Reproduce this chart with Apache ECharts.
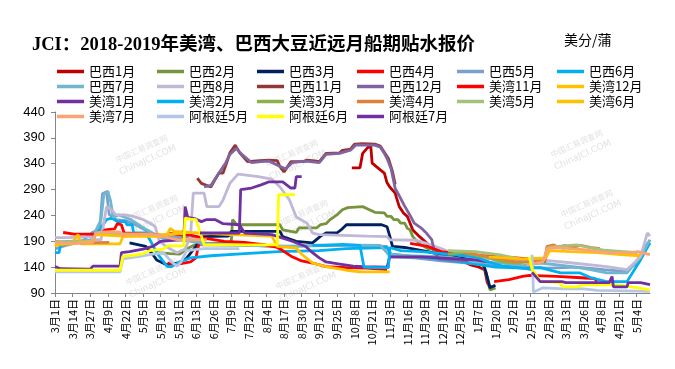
<!DOCTYPE html>
<html><head><meta charset="utf-8">
<script src="https://cdn.jsdelivr.net/npm/echarts@6/dist/echarts.min.js"></script>
<style>html,body{margin:0;padding:0;background:#fff}#c{width:675px;height:369px}</style>
</head><body><div id="c"></div><script>
// x values are day offsets from 2018-03-01; y values in 美分/蒲
const BASE = new Date(2018, 2, 1);
const yTicks = [90, 440, 50];
const names = ['巴西1月','巴西2月','巴西3月','巴西4月','巴西5月','巴西6月','巴西7月','巴西8月','巴西11月','巴西12月','美湾11月','美湾12月','美湾1月','美湾2月','美湾3月','美湾4月','美湾5月','美湾6月','美湾7月','阿根廷5月','阿根廷6月','阿根廷7月'];
const colors = ['#C00000','#77933C','#002060','#FF0000','#7BA0CD','#00B0F0','#6FB6CF','#C0B8D6','#943634','#8064A2','#FF0000','#FFC000','#7030A0','#00B0F0','#8EB04A','#E0803A','#A5C27C','#FFC000','#F9A472','#B4C7E7','#FFFF00','#7030A0'];

const br1 = [[219,332],[225,332],[227,360],[231,372],[233,373],[234,341],[240,328],[243,322],[245,303],[247,295],[251,283],[252,274],[254,257],[257,245],[260,238],[264,212],[269,199],[274,187],[279,174],[282,170],[291,160],[299,154],[306,145],[313,140],[317,135],[319,110],[321,100],[324,104]];
const br2 = [[75,168],[85,166],[92,165],[97,175],[103,183],[110,186],[130,186],[131,232],[134,222],[166,222],[168,212],[178,207],[180,216],[193,216],[196,222],[200,224],[203,232],[208,241],[212,251],[216,255],[227,257],[232,251],[236,246],[243,245],[245,238],[248,238],[250,232],[253,232],[255,225],[258,225],[260,215],[262,212],[264,199],[269,185],[275,176],[281,174],[285,170],[290,160],[295,155],[305,150],[315,148],[318,130],[321,96],[325,100]];
const br3 = [[55,187],[67,180],[72,165],[75,154],[82,145],[86,146],[91,148],[97,157],[104,180],[108,199],[128,200],[130,209],[166,209],[168,199],[178,190],[190,187],[196,200],[200,206],[208,206],[211,212],[215,222],[241,222],[245,218],[247,200],[249,180],[258,178],[265,175],[275,170],[283,165],[300,160],[315,155],[318,130],[321,100],[325,105]];
const br4 = [[83,148],[88,145],[93,147],[100,150],[104,158],[106,183],[115,186],[128,185],[145,182],[164,180],[168,172],[169,'-'],[324,112],[335,116],[345,122],[350,124],[370,122],[385,120],[398,118],[400,112]];
const br5 = [[0,175],[8,182],[20,190],[28,208],[33,212],[35,282],[38,286],[40,242],[45,232],[52,230],[58,224],[65,214],[70,206],[76,200],[90,198],[105,199],[108,183],[160,181],[178,180],[200,182],[245,180],[248,160],[265,158],[285,152],[305,148],[325,143],[345,140],[365,138],[385,140],[405,135],[420,132],[428,145],[434,175],[439,192]];
const br6 = [[0,168],[3,168],[4,183],[8,189],[26,189],[28,193],[31,212],[33,212],[38,232],[42,235],[46,228],[52,228],[53,222],[57,222],[58,206],[67,206],[70,193],[75,168],[79,154],[83,141],[86,141],[92,150],[100,158],[115,162],[140,166],[165,170],[195,172],[215,176],[245,178],[248,165],[275,158],[300,150],[325,140],[345,138],[358,139],[373,129],[387,129],[395,120],[407,112],[422,112],[432,154],[439,187]];
const br7 = [[0,188],[10,190],[26,192],[30,210],[34,232],[36,280],[39,287],[41,268],[43,236],[47,241],[52,236],[56,232],[60,225],[66,215],[72,206],[80,195],[90,193],[100,190],[110,186],[140,183],[170,180],[200,183],[240,182],[246,165],[260,162],[290,160],[310,150],[330,148],[345,143],[358,148],[382,141],[395,135],[407,129],[422,129],[432,160],[439,193]];
const br8 = [[0,197],[9,197],[10,199],[26,199],[28,193],[34,193],[38,257],[42,250],[45,241],[52,241],[58,238],[65,232],[72,222],[74,218],[77,190],[82,180],[90,168],[96,175],[100,200],[102,283],[110,283],[112,257],[121,257],[124,270],[129,302],[135,320],[150,315],[160,310],[166,295],[173,270],[178,237],[186,225],[190,206],[195,203],[230,200],[245,199],[247,193],[267,192],[275,185],[285,176],[295,165],[310,158],[330,154],[358,154],[382,148],[407,141],[422,135],[432,160],[437,206],[439,200]];
const br11 = [[105,312],[108,302],[115,295],[118,309],[121,322],[124,322],[127,344],[129,361],[133,376],[136,362],[142,344],[151,346],[158,347],[164,346],[166,334],[169,324],[172,336],[174,344],[183,344],[186,347],[190,346],[195,344],[200,360],[210,361],[212,366],[218,368],[221,378],[227,379],[236,378],[240,374],[243,362],[246,350],[249,325],[251,300]];
const br12 = [[110,295],[115,298],[120,318],[126,342],[129,358],[134,370],[137,360],[145,342],[152,344],[158,345],[165,336],[170,330],[175,342],[185,345],[195,342],[200,358],[210,360],[218,366],[222,376],[236,376],[240,372],[243,360],[245,350],[248,330],[251,292],[254,278],[258,258],[262,240],[265,225],[270,216],[274,206],[278,193],[280,170],[283,156],[292,154],[305,152]];
const us11 = [[6,207],[14,204],[33,204],[37,212],[44,214],[46,224],[49,222],[51,206],[75,203],[82,200],[84,206],[90,203],[100,202],[110,196],[125,190],[140,188],[155,183],[164,178],[168,172],[175,160],[182,152],[190,148],[200,141],[215,139],[230,138],[245,135],[246,'-'],[262,186],[275,180],[285,170],[300,165],[315,162],[330,160],[345,157],[360,154],[362,150]];
const us12 = [[0,180],[4,187],[12,184],[17,203],[19,185],[48,185],[50,199],[58,200],[82,199],[85,215],[88,209],[100,207],[129,203],[160,200],[164,180],[178,177],[182,165],[190,148],[200,141],[215,134],[225,131],[247,131]];
const us1 = [[0,141],[4,137],[26,136],[28,142],[48,142],[49,168],[55,170],[65,175],[72,180],[78,190],[92,193],[95,195],[96,257],[98,236],[103,234],[108,228],[112,232],[118,232],[124,224],[136,222],[140,206],[160,203],[175,190],[185,180],[190,168],[195,158],[200,150],[210,146],[220,142],[228,141],[245,140],[247,160],[270,160],[290,157],[310,154],[320,150]];
const us2 = [[190,182],[200,182],[212,184],[225,182],[228,140],[235,139],[246,139],[247,178],[255,172],[270,170],[290,165],[310,160],[320,150],[330,142],[345,138],[352,135]];
const us3 = [[0,190],[7,188],[8,'-'],[290,165],[300,168],[310,163],[320,158],[330,150],[340,148],[350,150],[361,152],[363,178],[370,180],[376,176]];
const us4 = [[0,186],[40,188],[41,'-'],[300,170],[320,160],[340,150],[355,152],[362,155],[363,180],[368,183],[372,178],[376,182],[382,178],[388,182],[395,178],[402,176]];
const us5 = [[0,189],[28,190],[30,205],[70,204],[71,'-'],[290,172],[310,170],[330,163],[345,155],[362,157],[364,178],[375,181],[385,183],[395,177],[405,173],[420,170],[430,168]];
const us6 = [[0,183],[28,190],[30,203],[50,200],[95,205],[96,'-'],[320,160],[345,156],[362,158],[365,172],[380,170],[400,168],[420,164],[432,162]];
const us7 = [[0,188],[14,186],[28,188],[30,206],[35,208],[48,208],[50,200],[52,204],[70,204],[80,200],[85,196],[90,193],[112,193],[113,'-'],[348,144],[360,150],[363,176],[370,178],[380,176],[390,174],[400,170],[410,168],[425,168],[430,170],[439,164]];
const ar5 = [[0,131],[48,131],[50,156],[60,160],[70,164],[80,168],[86,150],[90,142],[93,150],[97,172],[110,176],[136,176],[137,'-'],[352,164],[353,92],[360,100],[375,98],[390,98],[400,95],[420,94],[439,93]];
const ar6 = [[0,134],[48,134],[50,161],[58,163],[64,165],[70,172],[80,175],[83,181],[95,181],[96,235],[100,233],[104,232],[106,217],[108,200],[110,183],[164,183],[165,280],[177,280],[178,'-'],[350,160],[352,135],[355,125],[358,112],[372,110],[375,102],[385,102],[390,106],[410,106],[420,104],[430,100],[439,96]];
const ar7 = [[107,206],[136,206],[137,290],[145,293],[152,299],[158,305],[168,305],[174,293],[177,293],[178,315],[182,315],[183,'-'],[352,130],[358,112],[374,112],[377,110],[409,110],[411,122],[412,102],[422,102],[423,110],[432,110],[439,106]];

const seriesData = [br1,br2,br3,br4,br5,br6,br7,br8,br11,br12,us11,us12,us1,us2,us3,us4,us5,us6,us7,ar5,ar6,ar7];

function dayLabel(v){
  const d = new Date(BASE.getTime());
  d.setDate(d.getDate() + Math.round(v));
  return (d.getMonth()+1) + '月' + d.getDate() + '日';
}

const wm = [];
[[140,145],[290,150],[575,140],[150,205],[300,210],[585,200],[150,268],[300,272]].forEach(p=>{
  wm.push({type:'text', x:p[0], y:p[1], rotation:0.42, silent:true, z:-1,
    style:{text:'中国汇易调查网', font:'8px "Noto Sans CJK SC"', fill:'rgba(170,170,170,0.35)', align:'center'}});
  wm.push({type:'text', x:p[0]+6, y:p[1]+11, rotation:0.42, silent:true, z:-1,
    style:{text:'ChinaJCI.COM', font:'9px "DejaVu Sans"', fill:'rgba(170,170,170,0.35)', align:'center'}});
});

const chart = echarts.init(document.getElementById('c'), null, {renderer:'canvas'});
chart.setOption({
  animation:false,
  backgroundColor:'#fff',
  title:{text:'JCI：2018-2019年美湾、巴西大豆近远月船期贴水报价', left:27, top:31,
    textStyle:{fontSize:18.5, fontWeight:'bold', color:'#000', fontFamily:'"Liberation Serif", "Noto Sans CJK SC"'}},
  graphic:[{type:'text', left:564, top:33, style:{text:'美分/蒲', font:'14px "Noto Sans CJK SC"', fill:'#000'}}].concat(wm),
  legend:{left:52, top:59, width:610, itemWidth:27, itemHeight:3.5, itemGap:0, icon:'rect', selectedMode:false,
    textStyle:{fontSize:13, width:68, lineHeight:15, color:'#000', fontFamily:'"Noto Sans CJK SC"'},
    data:names},
  grid:{left:55, right:25, top:112, bottom:76, containLabel:false},
  xAxis:{type:'value', min:0, max:439, interval:13,
    axisLine:{show:true, lineStyle:{color:'#868686', width:1}},
    axisTick:{show:true, length:4, lineStyle:{color:'#868686'}},
    splitLine:{show:false},
    axisLabel:{rotate:90, fontSize:11, margin:6, color:'#000', fontFamily:'"Noto Sans CJK SC"', showMaxLabel:false, formatter:dayLabel}},
  yAxis:{type:'value', min:yTicks[0], max:yTicks[1], interval:yTicks[2],
    axisLine:{show:true, lineStyle:{color:'#868686', width:1}},
    axisTick:{show:true, length:4, lineStyle:{color:'#868686'}},
    splitLine:{show:false},
    axisLabel:{fontSize:13, margin:10, color:'#000', fontFamily:'"Liberation Sans"'}},
  series: names.map((n,i)=>({name:n, type:'line', data:seriesData[i], showSymbol:false, symbol:'none',
    lineStyle:{color:colors[i], width:2.8}, itemStyle:{color:colors[i]}, connectNulls:false}))
});
</script></body></html>
